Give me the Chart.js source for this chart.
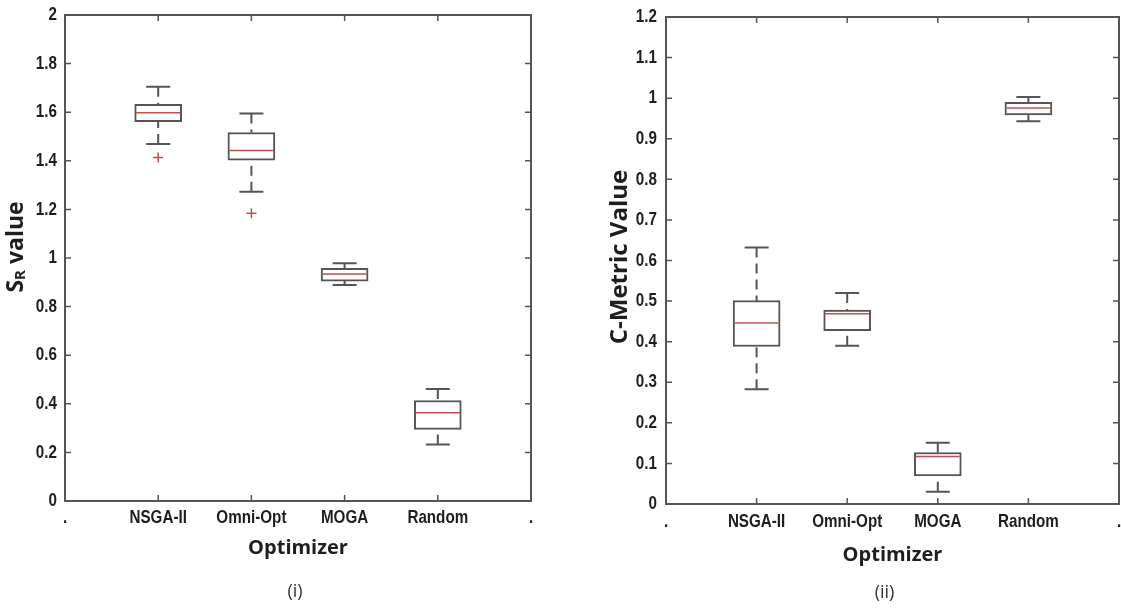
<!DOCTYPE html>
<html lang="en">
<head>
<meta charset="UTF-8">
<title>Optimizer comparison</title>
<script src="https://cdn.jsdelivr.net/npm/chart.js"></script>
<style>
  body { margin: 0; background: #fff; }
  .panel { position: absolute; top: 0; }
</style>
</head>
<body>
<div class="panel" style="left:0"><canvas id="chartSR" width="560" height="609"></canvas></div>
<div class="panel" style="left:560px"><canvas id="chartCM" width="561" height="609"></canvas></div>

<script>
const optimizers = ['NSGA-II', 'Omni-Opt', 'MOGA', 'Random'];
const xTickLabels = ['.', 'NSGA-II', 'Omni-Opt', 'MOGA', 'Random', '.'];

// (i) S_R value
const srLow      = [1.469, 1.273, 0.889, 0.233];
const srQ1       = [1.561, 1.403, 0.905, 0.295];
const srMedian   = [1.598, 1.442, 0.934, 0.363];
const srQ3       = [1.632, 1.516, 0.957, 0.413];
const srHigh     = [1.705, 1.595, 0.978, 0.461];
const srOutliers = [[1.414], [1.184], [], []];

// (ii) C-Metric value
const cmLow      = [0.283, 0.390, 0.030, 0.943];
const cmQ1       = [0.388, 0.427, 0.069, 0.959];
const cmMedian   = [0.446, 0.469, 0.117, 0.976];
const cmQ3       = [0.501, 0.478, 0.127, 0.990];
const cmHigh     = [0.632, 0.520, 0.151, 1.003];
const cmOutliers = [[], [], [], []];

const tickFontCss = "bold 19px 'Liberation Sans', Arial, sans-serif";
const tickSqueeze = 0.8;   // narrow look for the tick labels
const titleFont = { family: "'Open Sans', sans-serif", size: 20, weight: 'bold' };
const textColor = '#1e1e1e';
const lineGray  = '#555';
const medianRed = '#c0504d';

// whiskers, caps, medians, frame with inward ticks, tick labels, y title and caption
function makeBoxPlugin(s) {
  return {
    id: 'boxPlot',
    beforeDatasetsDraw(chart) {
      const { ctx, scales: { x, y } } = chart;
      ctx.save();
      ctx.strokeStyle = lineGray;
      ctx.lineWidth = 2;
      s.low.forEach((lo, i) => {
        const px = x.getPixelForValue(i + 1);
        ctx.setLineDash([10, 6]);
        ctx.beginPath();
        ctx.moveTo(px, y.getPixelForValue(s.high[i]));
        ctx.lineTo(px, y.getPixelForValue(s.q3[i]));
        ctx.moveTo(px, y.getPixelForValue(lo));
        ctx.lineTo(px, y.getPixelForValue(s.q1[i]));
        ctx.stroke();
        ctx.setLineDash([]);
        ctx.beginPath();
        [lo, s.high[i]].forEach(v => {
          const py = y.getPixelForValue(v);
          ctx.moveTo(px - 12, py);
          ctx.lineTo(px + 12, py);
        });
        ctx.stroke();
      });
      ctx.restore();
    },
    afterDatasetsDraw(chart) {
      const { ctx, scales: { x, y } } = chart;
      ctx.save();
      ctx.strokeStyle = medianRed;
      ctx.lineWidth = 1.5;
      s.median.forEach((m, i) => {
        const px = x.getPixelForValue(i + 1);
        const py = y.getPixelForValue(m);
        ctx.beginPath();
        ctx.moveTo(px - 22, py);
        ctx.lineTo(px + 22, py);
        ctx.stroke();
      });
      ctx.restore();
    },
    afterDraw(chart) {
      const { ctx, chartArea: a, scales: { x, y } } = chart;
      ctx.save();
      ctx.strokeStyle = lineGray;
      ctx.lineWidth = 2;
      ctx.strokeRect(a.left, a.top, a.right - a.left, a.bottom - a.top);
      ctx.lineWidth = 1.5;
      ctx.beginPath();
      x.ticks.forEach(t => {
        if (t.value <= 0 || t.value >= 5) return;
        const px = x.getPixelForValue(t.value);
        ctx.moveTo(px, a.bottom); ctx.lineTo(px, a.bottom - 6);
        ctx.moveTo(px, a.top); ctx.lineTo(px, a.top + 6);
      });
      y.ticks.forEach(t => {
        const py = y.getPixelForValue(t.value);
        ctx.moveTo(a.left, py); ctx.lineTo(a.left + 6, py);
        ctx.moveTo(a.right, py); ctx.lineTo(a.right - 6, py);
      });
      ctx.stroke();

      // tick labels, squeezed horizontally
      ctx.fillStyle = textColor;
      ctx.font = tickFontCss;
      ctx.textBaseline = 'middle';
      ctx.textAlign = 'center';
      x.ticks.forEach(t => {
        ctx.save();
        ctx.translate(x.getPixelForValue(t.value), a.bottom + s.xLabelDy);
        ctx.scale(tickSqueeze, 1);
        ctx.fillText(xTickLabels[t.value], 0, 0);
        ctx.restore();
      });
      ctx.textAlign = 'right';
      y.ticks.forEach(t => {
        ctx.save();
        ctx.translate(a.left - s.yLabelGap, y.getPixelForValue(t.value));
        ctx.scale(tickSqueeze, 1);
        ctx.fillText(String(+t.value.toFixed(1)), 0, 0);
        ctx.restore();
      });

      // rotated y title, pieces allow a subscript
      ctx.textAlign = 'left';
      ctx.translate(a.left + s.yTitleDx, s.yTitleY);
      ctx.rotate(-Math.PI / 2);
      let total = 0;
      s.yTitle.forEach(p => {
        ctx.font = `bold ${p.size}px 'Open Sans', sans-serif`;
        total += ctx.measureText(p.text).width;
      });
      let cx = -total / 2;
      s.yTitle.forEach(p => {
        ctx.font = `bold ${p.size}px 'Open Sans', sans-serif`;
        ctx.fillText(p.text, cx, p.shift || 0);
        cx += ctx.measureText(p.text).width;
      });
      ctx.setTransform(1, 0, 0, 1, 0, 0);

      ctx.font = "18px 'Open Sans', sans-serif";
      ctx.fillStyle = '#333';
      ctx.textAlign = 'center';
      ctx.fillText(s.caption, (a.left + a.right) / 2 + s.captionDx, s.captionY);
      ctx.restore();
    }
  };
}

function drawBoxChart(id, s) {
  return new Chart(document.getElementById(id), {
    type: 'bar',
    data: {
      datasets: [
        {
          type: 'bar',
          data: optimizers.map((_, i) => ({ x: i + 1, y: [s.q1[i], s.q3[i]] })),
          backgroundColor: '#fff',
          borderColor: lineGray,
          borderWidth: 2,
          borderSkipped: false,
          barThickness: 47
        },
        {
          type: 'scatter',
          data: s.outliers.flatMap((vals, i) => vals.map(v => ({ x: i + 1, y: v }))),
          pointStyle: 'cross',
          radius: 5,
          borderColor: medianRed,
          borderWidth: 1.5
        }
      ]
    },
    options: {
      responsive: false,
      animation: false,
      events: [],
      layout: { padding: s.padding },
      plugins: { legend: { display: false }, tooltip: { enabled: false } },
      scales: {
        x: {
          type: 'linear',
          offset: false,
          min: 0,
          max: 5,
          afterFit: sc => { sc.height = s.xHeight; },
          grid: { display: false, drawTicks: false },
          border: { display: false },
          ticks: { stepSize: 1, autoSkip: false, display: false },
          title: {
            display: true,
            text: 'Optimizer',
            font: titleFont,
            color: textColor,
            padding: { top: 0, bottom: s.xTitlePad }
          }
        },
        y: {
          min: 0,
          max: s.yMax,
          afterFit: sc => { sc.width = s.yWidth; },
          grid: { display: false, drawTicks: false },
          border: { display: false },
          ticks: { stepSize: s.yStep, display: false }
        }
      }
    },
    plugins: [makeBoxPlugin(s)]
  });
}

drawBoxChart('chartSR', {
  low: srLow, q1: srQ1, median: srMedian, q3: srQ3, high: srHigh, outliers: srOutliers,
  yMax: 2, yStep: 0.2,
  padding: { left: 0, right: 29, top: 15, bottom: 0 },
  yWidth: 65, xHeight: 108, xTitlePad: 49,
  xLabelDy: 17, yLabelGap: 8,
  yTitle: [{ text: 'S', size: 23 }, { text: 'R', size: 15, shift: 5 }, { text: ' value', size: 23 }],
  yTitleDx: -49, yTitleY: 247,
  caption: '(i)', captionDx: -3, captionY: 592
});

drawBoxChart('chartCM', {
  low: cmLow, q1: cmQ1, median: cmMedian, q3: cmQ3, high: cmHigh, outliers: cmOutliers,
  yMax: 1.2, yStep: 0.1,
  padding: { left: 0, right: 2, top: 17, bottom: 0 },
  yWidth: 106, xHeight: 105, xTitlePad: 42,
  xLabelDy: 18, yLabelGap: 9,
  yTitle: [{ text: 'C-Metric Value', size: 24 }],
  yTitleDx: -46, yTitleY: 257,
  caption: '(ii)', captionDx: -8, captionY: 593
});
</script>
</body>
</html>
